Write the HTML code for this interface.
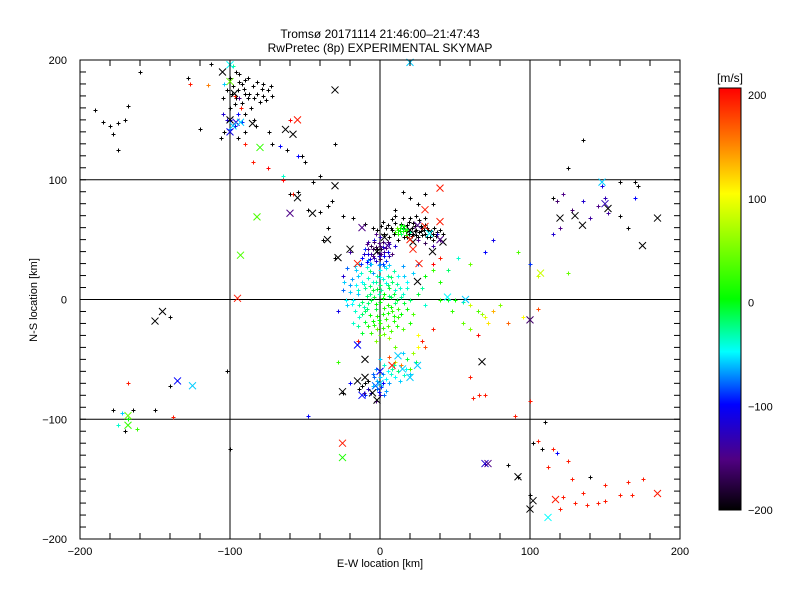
<!DOCTYPE html>
<html><head><meta charset="utf-8"><style>
body{margin:0;background:#fff;}
svg text{font-family:"Liberation Sans",sans-serif;font-size:12px;fill:#000;}
svg text.tk{font-size:11px;}
</style></head><body>
<svg id="chart" width="800" height="600" viewBox="0 0 800 600" xmlns="http://www.w3.org/2000/svg">
<defs><linearGradient id="cb" x1="0" y1="1" x2="0" y2="0">
<stop offset="0" stop-color="#000"/><stop offset="0.12" stop-color="#500082"/><stop offset="0.25" stop-color="#0000ff"/><stop offset="0.375" stop-color="#00ffff"/><stop offset="0.5" stop-color="#00ff00"/><stop offset="0.75" stop-color="#ffff00"/><stop offset="0.87" stop-color="#ff8000"/><stop offset="1" stop-color="#ff0000"/></linearGradient></defs>
<text x="380" y="38" text-anchor="middle">Tromsø 20171114 21:46:00–21:47:43</text>
<text x="380" y="52" text-anchor="middle">RwPretec (8p) EXPERIMENTAL SKYMAP</text>
<g id="grid"></g><g id="marks"></g>
<rect x="80" y="60" width="600" height="479" fill="none" stroke="#000" stroke-width="1"/>
<g id="axes"></g>
<text class="tk" x="380" y="567" text-anchor="middle">E-W location [km]</text>
<text class="tk" transform="translate(37,300) rotate(-90)" text-anchor="middle">N-S location [km]</text>
<rect x="719" y="88" width="22" height="422" fill="url(#cb)" stroke="#000"/>
<text x="717" y="82">[m/s]</text>
<g id="cbticks"></g>
</svg>
<script>
const xTicks=[-200,-100,0,100,200];
const yTicks=[-200,-100,0,100,200];
const cbTicks=[-200,-100,0,100,200];
const dotX=[-100,-98,-95,-92,-90,-88,-85,-82,-80,-78,-75,-96,-93,-86,-90,-84,-96,-102,-105,-94,-88,-82,-78,-100,-83,-90,-95,-104,-120,-106,-72,-74,-160,-185,-180,-175,-170,-190,-168,-178,-175,-128,-113,-30,-52,-50,-62,-40,-45,-55,-60,-48,-35,-38,-30,
-127,-97,-93,-115,-104,-60,-90,-85,-75,-65,-58,-94,-95,-105,-97,-100,-92,-55,-67,-65,-98,-102,-100,
5,8,10,12,15,18,20,22,24,25,28,30,32,35,20,15,26,30,3,6,12,18,22,28,33,36,38,10,24,30,17,21,27,14,40,42,-2,-5,2,8,25,20,15,35,30,10,-10,-18,-25,-35,-32,-40,
12,15,18,14,16,10,20,13,17,11,-3,0,5,25,35,38,-8,30,-20,40,
-5,-2,0,2,-8,-4,3,-6,-1,1,-3,5,-10,-12,-7,4,8,6,-4,0,-9,2,10,
-15,-12,-8,-5,0,5,8,-10,-5,0,3,6,10,-15,-18,-12,-6,0,5,10,14,-20,-3,2,8,-10,-14,-5,0,5,-2,12,-8,15,12,-16,3,-3,7,-7,-1,4,-11,9,18,20,25,22,30,28,-22,-25,18,22,15,25,35,30,40,-18,-12,0,6,15,20,25,30,35,-25,-28,-15,-3,10,
40,45,50,55,60,65,68,70,72,75,80,85,95,105,48,55,60,65,45,52,60,70,75,92,100,105,115,120,125,35,40,
115,118,122,128,135,140,145,150,152,148,160,170,172,160,165,135,125,170,
0,3,-3,5,-5,0,8,10,14,12,18,16,-8,-10,-12,-5,-2,2,-6,0,4,-3,-10,-14,20,22,25,28,6,15,24,-20,-25,
-170,-175,-168,-172,-165,-178,-162,-168,-140,-138,-150,-100,-140,-102,-48,-28,
62,66,70,60,90,100,102,110,105,115,118,112,125,128,122,130,138,145,150,160,165,175,168,135,120,100,92,70,85,108,150,140];
const dotY=[185,178,175,180,172,168,178,172,165,170,175,168,160,160,155,150,190,175,168,182,185,182,180,160,145,140,135,140,142,135,130,140,190,148,145,147,150,158,162,138,125,185,197,130,120,115,125,103,98,90,88,75,60,50,35,
180,170,160,179,180,150,130,115,110,100,88,168,155,155,145,150,148,120,128,103,195,150,142,
62,58,64,55,60,62,57,64,58,52,60,55,58,55,68,68,66,62,55,52,50,52,55,54,52,60,56,70,70,68,57,60,57,63,58,55,58,60,65,67,80,85,90,80,88,75,63,68,70,78,82,73,
58,57,59,55,61,56,56,60,54,60,55,52,48,50,45,55,48,47,40,50,
42,40,38,44,38,35,36,45,47,42,32,40,42,35,30,32,38,46,50,34,46,30,45,
20,15,18,22,25,20,15,10,8,12,5,10,8,5,0,-2,0,-2,-5,-3,2,12,-8,-12,-10,-10,-15,-18,-20,-22,-25,-15,-22,5,20,25,28,15,2,5,5,14,-6,-18,-8,0,5,-12,-5,10,-5,8,15,22,28,30,25,20,15,-20,-28,-30,-32,-25,-20,-30,-40,-25,20,-10,-35,-35,-40,
0,0,0,-2,-5,-10,-12,-15,-20,-10,-5,-20,-15,-8,-10,-20,-25,-30,25,35,30,40,50,40,30,20,55,60,22,30,35,
85,82,88,75,82,68,78,85,72,95,98,98,95,70,60,133,110,85,
-50,-55,-58,-60,-62,-65,-58,-52,-55,-60,-50,-63,-68,-70,-72,-72,-75,-70,-78,-80,-76,-85,-80,-75,-58,-45,-40,-35,-48,-45,-52,-70,-78,
-110,-105,-100,-95,-92,-92,-108,-70,-72,-98,-92,-125,-15,-60,-97,-52,
-82,-80,-80,-65,-97,-85,-120,-102,-118,-125,-128,-140,-135,-150,-165,-170,-172,-170,-168,-163,-152,-150,-163,-162,-175,-163,-148,-137,-138,-125,-155,-148];
const dotV=[-200,-200,-200,-200,-200,-200,-200,-200,-200,-200,-200,-200,-200,-200,-200,-200,-200,-200,-200,-200,-200,-200,-200,-200,-200,-200,-200,-200,-200,-200,-200,-200,-200,-200,-200,-200,-200,-200,-200,-200,-200,-200,-200,-200,-200,-200,-200,-200,-200,-200,-200,-200,-200,-200,-200,
190,190,190,150,-60,200,190,190,200,200,190,-150,-100,-120,-110,-110,-90,-100,-100,-40,-30,-120,-80,
-200,-200,-200,-200,-200,-200,-200,-200,-200,-200,-200,-200,-200,-200,-200,-200,-200,-200,-200,-200,-200,-200,-200,-200,-200,-200,-200,-200,-200,-200,-200,-200,-200,-200,-200,-200,-200,-200,-200,-200,-200,-200,-200,-200,-200,-200,-200,-200,-200,-200,-200,-200,
0,10,-10,-20,0,20,-30,-5,10,40,-150,-130,-160,-150,-140,-120,-140,-170,-140,-160,
-160,-150,-140,-120,-110,-130,-100,-170,-150,-180,-120,-110,-90,-100,-80,-90,-160,-130,-110,-170,-150,-90,-120,
-60,-50,-40,-70,-50,-30,-20,-30,-10,-20,0,-10,-40,-60,-50,-20,-10,0,10,-20,-30,-70,-10,10,20,-20,-40,0,20,30,40,20,10,-40,-50,-60,-70,-30,-15,-25,-35,-45,-35,10,0,-20,-10,30,-40,-30,-60,-80,-50,-60,-70,-80,20,0,10,-40,-10,40,60,30,10,100,170,190,-120,-110,190,50,40,
10,-10,0,-30,80,30,60,90,110,130,50,160,100,170,20,40,50,200,-20,-40,40,-100,-110,30,-90,80,-120,-150,40,200,190,
-200,-160,-150,-160,-120,-140,-150,-130,-140,-110,-200,-200,-200,-200,-200,-200,-200,-100,
-60,-40,-70,-50,-80,-60,-30,80,150,-20,-10,-40,-200,-200,-200,-60,-80,-100,-120,-140,-70,-150,-90,-200,30,60,100,190,170,-60,-20,-100,-200,
-200,-40,0,-60,-200,-200,20,190,-200,190,-200,-200,-200,-200,-100,20,
190,190,190,190,190,190,-200,-200,190,190,-100,190,190,190,190,190,190,190,190,190,190,190,190,190,190,-200,-200,-130,-200,-200,190,-200];
const denseX=[-17,-14,-9,-6,-1,4,9,-19,-13,-7,-2,2,7,11,-16,-11,-7,-2,1,5,9,13,-20,-15,-9,-4,2,6,11,16,-19,-14,-8,-3,3,7,12,-17,-12,-7,-2,4,9,14,-15,-10,-4,2,7,11,-6,3,-13,-8,0,6,-22,-24,-23,18,16,-1,-9,5,-5,0,
-8,-6,-3,0,3,-5,-1,1,-7,6,-11,-9,-4,2,4,-2,
7,9,13,19,23,26,29,31,34,37,16,21,24,27,19,23,31,35,4,1,
13,15,12,17,14,
2,-2,4,7,10,13,6,-4,1,-1,-8,-11,3,9,17,20,
-99,-91,-87,-84,-79,-97,-92,-76,-72,-73,-94,-90];
const denseY=[28,30,27,30,29,26,24,17,22,24,20,17,19,13,12,13,11,9,8,12,5,10,6,8,3,2,1,3,0,-3,-4,-5,-3,-4,-7,-6,-8,-10,-12,-13,-14,-16,-14,-12,-22,-19,-21,-24,-26,-22,-28,-29,30,33,30,29,26,15,0,10,20,-17,-8,-11,15,19,
42,38,44,45,40,36,36,38,34,36,38,31,48,48,43,42,
60,55,57,65,61,56,58,52,57,53,52,53,54,61,55,57,60,50,60,61,
57,59,55,58,62,
-62,-68,-66,-62,-65,-68,-70,-65,-73,-77,-75,-78,-80,-55,-58,-62,
172,176,172,168,176,163,164,167,170,178,188,183];
const denseV=[-60,-50,-40,-60,-70,-50,-30,-70,-40,-20,-30,-40,-20,-30,-50,-40,-20,-10,-30,-20,-10,-40,-60,-40,-20,-10,0,-20,-10,-10,-50,-30,-20,0,10,0,20,-40,-20,0,10,20,10,0,-30,-10,10,20,30,10,20,40,-90,-70,-80,-60,-80,-60,-50,-40,-60,0,-20,10,-40,-50,
-150,-140,-170,-160,-140,-150,-120,-150,-110,-130,-120,-100,-160,-170,-150,-190,
-200,-200,-200,-200,-200,-200,-200,-200,-200,-200,-200,-200,-200,-200,-200,-200,-200,-200,-200,-200,
0,-10,10,20,0,
-60,-70,-50,-40,-50,-60,-70,-80,-90,-100,-120,-160,-80,-30,-50,-60,
-200,-200,-200,-200,-200,-200,-200,-200,-200,-200,-200,-200];
const crossX=[-105,-100,-100,-97,-100,-96,-98,-100,-93,-80,-63,-58,-55,-85,-30,20,-30,-55,-45,-60,-82,-93,-95,-145,-150,-135,-125,-168,-168,-25,-25,-25,-5,-10,-15,-2,0,8,15,20,25,0,-28,-20,-35,-12,-15,3,-2,5,20,22,30,40,20,42,22,25,35,40,33,40,30,26,25,45,57,68,100,107,70,72,92,102,100,112,117,185,135,130,120,148,152,150,175,185,-12,-3,12,-10,-15];
const crossY=[190,196,182,172,150,148,145,140,148,127,142,138,150,147,175,198,95,85,72,72,69,37,1,-10,-18,-68,-72,-97,-105,-120,-132,-77,-78,-65,-68,-84,-60,-55,-58,-65,-55,-70,35,42,50,60,30,52,40,45,58,48,61,65,50,48,42,62,40,50,55,93,75,30,15,2,0,-52,-17,22,-137,-137,-148,-168,-175,-182,-167,-162,62,70,68,98,76,80,45,68,-80,-72,-47,-50,-38];
const crossV=[-200,-50,40,-200,-200,-120,-60,-110,-60,20,-200,-200,190,-200,-200,-60,-200,-200,-200,-150,30,30,190,-200,-200,-100,-60,40,20,190,10,-200,-200,-200,-200,-200,-100,190,-60,-60,-60,-60,-200,-200,-200,-150,190,-200,-200,-140,-200,-200,190,190,190,-200,190,-150,-200,-150,-50,190,190,190,-200,-50,-60,-200,-160,80,-120,-150,-200,-200,-200,-50,190,190,-200,-200,-200,-60,-200,-130,-200,-200,-100,-80,-60,-200,-100];

const L=80,R=680,T=60,B=539;
const sx=v=>L+(v+200)/400*(R-L);
const sy=v=>B-(v+200)/400*(B-T);
const NS='http://www.w3.org/2000/svg';
function mk(tag,attrs,parent){const e=document.createElementNS(NS,tag);for(const k in attrs)e.setAttribute(k,attrs[k]);parent.appendChild(e);return e;}
const stops=[[-200,0,0,0],[-152,80,0,130],[-100,0,0,255],[-50,0,255,255],[0,0,255,0],[100,255,255,0],[148,255,128,0],[200,255,0,0]];
function col(v){v=Math.max(-200,Math.min(200,v));for(let i=1;i<stops.length;i++){if(v<=stops[i][0]){const a=stops[i-1],b=stops[i],t=(v-a[0])/(b[0]-a[0]);return 'rgb('+[1,2,3].map(j=>Math.round(a[j]+(b[j]-a[j])*t)).join(',')+')';}}return 'red';}
const grid=document.getElementById('grid'),axes=document.getElementById('axes'),marks=document.getElementById('marks'),cbt=document.getElementById('cbticks');
[-100,0,100].forEach(v=>{
 const g1=mk('line',{x1:sx(v),x2:sx(v),y1:T,y2:B,stroke:'#000'},grid);
 
 
 const g2=mk('line',{x1:L,x2:R,y1:sy(v),y2:sy(v),stroke:'#000'},grid);
 
 
});
for(let v=-200;v<=200;v+=20){const x=sx(v);mk('line',{x1:x,x2:x,y1:B,y2:B-6,stroke:'#000'},axes);mk('line',{x1:x,x2:x,y1:T,y2:T+6,stroke:'#000'},axes);}
for(let v=-200;v<=200;v+=10){const y=sy(v);mk('line',{x1:L,x2:L+6,y1:y,y2:y,stroke:'#000'},axes);mk('line',{x1:R,x2:R-6,y1:y,y2:y,stroke:'#000'},axes);}
xTicks.forEach(v=>{const t=mk('text',{x:sx(v),y:B+16,'text-anchor':'middle','class':'tk'},axes);t.textContent=v<0?'\u2212'+(-v):v;
 
 });
yTicks.forEach(v=>{const t=mk('text',{x:L-13,y:sy(v)+4,'text-anchor':'end','class':'tk'},axes);t.textContent=v<0?'\u2212'+(-v):v;
 
 });
cbTicks.forEach(v=>{const y=510-(v+200)/400*415;const t=mk('text',{x:748,y:y+4,'class':'tk'},cbt);t.textContent=v<0?'\u2212'+(-v):v;
 
 });
const allX=dotX.concat(denseX),allY=dotY.concat(denseY),allV=dotV.concat(denseV);
for(let i=0;i<allX.length;i++){const x=Math.round(sx(allX[i]))+0.5,y=Math.round(sy(allY[i]))+0.5,c=col(allV[i]);
 const p=mk('path',{d:`M${x-2} ${y}H${x+2}M${x} ${y-2}V${y+2}`,stroke:c,'stroke-width':1},marks);
 
 }
for(let i=0;i<crossX.length;i++){const x=sx(crossX[i]),y=sy(crossY[i]),c=col(crossV[i]);
 const p=mk('path',{d:`M${x-3.5} ${y-3.5}L${x+3.5} ${y+3.5}M${x-3.5} ${y+3.5}L${x+3.5} ${y-3.5}`,stroke:c,'stroke-width':1},marks);
 
 }
</script>
</body></html>
